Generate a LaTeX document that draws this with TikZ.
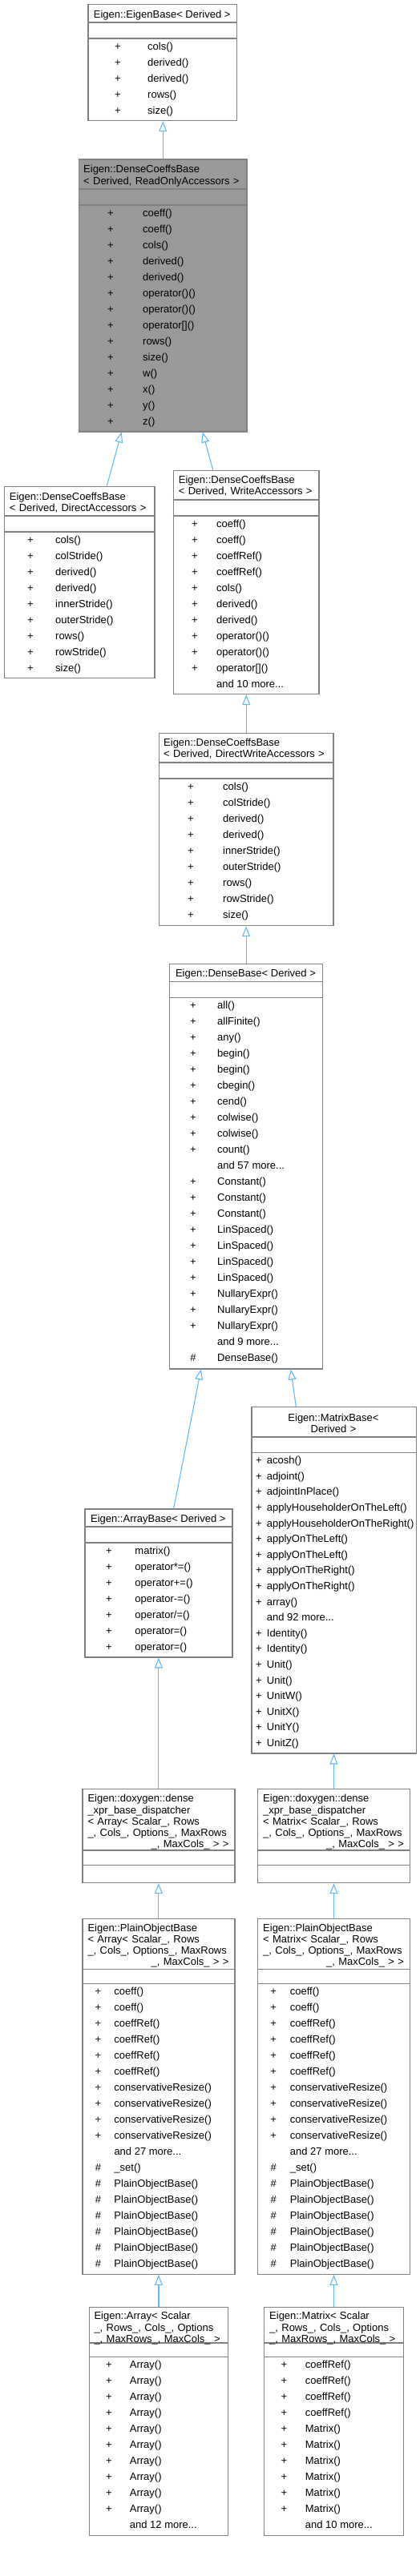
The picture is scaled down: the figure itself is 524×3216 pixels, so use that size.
\documentclass[tikz,border=0pt]{standalone}
\usepackage{fontspec}
\setmainfont{Liberation Sans}
\usepackage{array}
\usetikzlibrary{arrows.meta, positioning, calc}
\definecolor{EdgeBlue}{RGB}{99,184,255}
\definecolor{BoxGray}{RGB}{128,128,128}
\definecolor{HiGray}{RGB}{153,153,153}

% marker column + member name column
\newcommand{\memberlist}[2]{%
  \begin{tabular}{@{}>{\centering\arraybackslash}p{12pt}@{\hspace{#1}}l@{}}#2\end{tabular}}

\tikzset{
  classbox/.style={draw=BoxGray, line width=1.2pt, fill=white, anchor=north west, inner sep=0pt},
  sepline/.style={draw=BoxGray, line width=1.2pt},
  classtitle/.style={anchor=base west, inner sep=0pt, align=left, font=\fontsize{13}{14.3}\selectfont},
  members/.style={anchor=north west, inner sep=0pt, font=\fontsize{13}{20}\selectfont},
  inherit/.style={draw=EdgeBlue, line width=1.1pt, -{Triangle[open, length=13pt, width=10pt]}},
}

\begin{document}
\begin{tikzpicture}[x=1pt, y=-1pt]
    \useasboundingbox (0,0) rectangle (524,3216);

    % Eigen::EigenBase
    \node[classbox, minimum width=185.7pt, minimum height=145pt] (eigenbase) at (109.3,5) {};
    \draw[sepline] (109.3,28) -- (295,28) (109.3,48) -- (295,48);
    \node[classtitle, anchor=base] (eigenbase-t) at (202.2,22.5) {Eigen::EigenBase< Derived >};
    \node[members] (eigenbase-m) at (140.7,48.4) {\memberlist{31.3pt}{%
      + & cols()\\ + & derived()\\ + & derived()\\ + & rows()\\ + & size()}};

    % DenseCoeffsBase, read only (the class itself)
    \node[classbox, fill=HiGray, minimum width=209.3pt, minimum height=340pt] (dcbro) at (98,198.3) {};
    \draw[sepline] (98,236) -- (307.3,236) (98,256) -- (307.3,256);
    \node[classtitle, text width=197pt] (dcbro-t) at (104,215.7)
      {Eigen::DenseCoeffsBase\\< Derived, ReadOnlyAccessors >};
    \node[members] (dcbro-m) at (131.7,256.4) {\memberlist{34.3pt}{%
      + & coeff()\\ + & coeff()\\ + & cols()\\ + & derived()\\ + & derived()\\
      + & operator()()\\ + & operator()()\\ + & operator[]()\\ + & rows()\\
      + & size()\\ + & w()\\ + & x()\\ + & y()\\ + & z()}};

    % DenseCoeffsBase, direct accessors
    \node[classbox, minimum width=187.3pt, minimum height=239.3pt] (dcbd) at (5,606.7) {};
    \draw[sepline] (5,644) -- (192.3,644) (5,664) -- (192.3,664);
    \node[classtitle, text width=175pt] (dcbd-t) at (11.7,624)
      {Eigen::DenseCoeffsBase\\< Derived, DirectAccessors >};
    \node[members] (dcbd-m) at (31.7,664.4) {\memberlist{25.3pt}{%
      + & cols()\\ + & colStride()\\ + & derived()\\ + & derived()\\
      + & innerStride()\\ + & outerStride()\\ + & rows()\\ + & rowStride()\\ + & size()}};

    % DenseCoeffsBase, write accessors
    \node[classbox, minimum width=181.6pt, minimum height=279.3pt] (dcbw) at (215.7,586.7) {};
    \draw[sepline] (215.7,624) -- (397.3,624) (215.7,644) -- (397.3,644);
    \node[classtitle, text width=170pt] (dcbw-t) at (222.7,603.5)
      {Eigen::DenseCoeffsBase\\< Derived, WriteAccessors >};
    \node[members] (dcbw-m) at (236.7,644.4) {\memberlist{21.3pt}{%
      + & coeff()\\ + & coeff()\\ + & coeffRef()\\ + & coeffRef()\\ + & cols()\\
      + & derived()\\ + & derived()\\ + & operator()()\\ + & operator()()\\
      + & operator[]()\\ & and 10 more...}};

    % DenseCoeffsBase, direct write accessors
    \node[classbox, minimum width=217.3pt, minimum height=240pt] (dcbdw) at (198,915) {};
    \draw[sepline] (198,952) -- (415.3,952) (198,972) -- (415.3,972);
    \node[classtitle, text width=205pt] (dcbdw-t) at (204,931.5)
      {Eigen::DenseCoeffsBase\\< Derived, DirectWriteAccessors >};
    \node[members] (dcbdw-m) at (231.7,972.1) {\memberlist{34.3pt}{%
      + & cols()\\ + & colStride()\\ + & derived()\\ + & derived()\\
      + & innerStride()\\ + & outerStride()\\ + & rows()\\ + & rowStride()\\ + & size()}};

    % Eigen::DenseBase
    \node[classbox, minimum width=191pt, minimum height=505.6pt] (densebase) at (211,1202.7) {};
    \draw[sepline] (211,1225.3) -- (402,1225.3) (211,1245.3) -- (402,1245.3);
    \node[classtitle, anchor=base] (densebase-t) at (306.5,1219.5) {Eigen::DenseBase< Derived >};
    \node[members] (densebase-m) at (234.7,1245.4) {\memberlist{24.3pt}{%
      + & all()\\ + & allFinite()\\ + & any()\\ + & begin()\\ + & begin()\\
      + & cbegin()\\ + & cend()\\ + & colwise()\\ + & colwise()\\ + & count()\\
      & and 57 more...\\ + & Constant()\\ + & Constant()\\ + & Constant()\\
      + & LinSpaced()\\ + & LinSpaced()\\ + & LinSpaced()\\ + & LinSpaced()\\
      + & NullaryExpr()\\ + & NullaryExpr()\\ + & NullaryExpr()\\
      & and 9 more...\\ \# & DenseBase()}};

    % Eigen::ArrayBase
    \node[classbox, minimum width=184pt, minimum height=185pt] (arraybase) at (105.3,1883.3) {};
    \draw[sepline] (105.3,1906) -- (289.3,1906) (105.3,1926) -- (289.3,1926);
    \node[classtitle, anchor=base] (arraybase-t) at (197.3,1900.7) {Eigen::ArrayBase< Derived >};
    \node[members] (arraybase-m) at (129.7,1926.1) {\memberlist{26.6pt}{%
      + & matrix()\\ + & operator*=()\\ + & operator+=()\\ + & operator-=()\\
      + & {operator/=()}\\ + & operator=()\\ + & operator=()}};

    % Eigen::MatrixBase
    \node[classbox, minimum width=205.4pt, minimum height=432.6pt] (matrixbase) at (313.3,1755.7) {};
    \draw[sepline] (313.3,1794) -- (518.7,1794) (313.3,1813.3) -- (518.7,1813.3);
    \node[classtitle, anchor=base, align=center, text width=205pt] (matrixbase-t) at (416,1774.3)
      {Eigen::MatrixBase<\\Derived >};
    \node[members, font=\fontsize{13}{19.6}\selectfont] (matrixbase-m) at (316.7,1813.7) {\memberlist{4pt}{%
      + & acosh()\\ + & adjoint()\\ + & adjointInPlace()\\
      + & applyHouseholderOnTheLeft()\\ + & applyHouseholderOnTheRight()\\
      + & applyOnTheLeft()\\ + & applyOnTheLeft()\\ + & applyOnTheRight()\\
      + & applyOnTheRight()\\ + & array()\\ & and 92 more...\\
      + & Identity()\\ + & Identity()\\ + & Unit()\\ + & Unit()\\
      + & UnitW()\\ + & UnitX()\\ + & UnitY()\\ + & UnitZ()}};

    % dense_xpr_base_dispatcher for Array and for Matrix
    \node[classbox, minimum width=190pt, minimum height=117.3pt] (dispatcharray) at (102.3,2232.7) {};
    \draw[sepline] (102.3,2310) -- (292.3,2310) (102.3,2328.7) -- (292.3,2328.7);
    \node[classtitle, text width=176pt] (dispatcharray-t) at (109.3,2249.7)
      {Eigen::doxygen::dense\\\_xpr\_base\_dispatcher\\< Array< Scalar\_, Rows\\
       \_, Cols\_, Options\_, MaxRows\\\hspace*{\fill}\_, MaxCols\_ > >\hspace*{\fill}};

    \node[classbox, minimum width=189.7pt, minimum height=117.3pt] (dispatchmatrix) at (321,2232.7) {};
    \draw[sepline] (321,2310) -- (510.7,2310) (321,2328.7) -- (510.7,2328.7);
    \node[classtitle, text width=175.7pt] (dispatchmatrix-t) at (328,2249.7)
      {Eigen::doxygen::dense\\\_xpr\_base\_dispatcher\\< Matrix< Scalar\_, Rows\\
       \_, Cols\_, Options\_, MaxRows\\\hspace*{\fill}\_, MaxCols\_ > >\hspace*{\fill}};

    % PlainObjectBase for Array and for Matrix
    \node[classbox, minimum width=190pt, minimum height=444pt] (plainarray) at (102.3,2394.7) {};
    \draw[sepline] (102.3,2458.3) -- (292.3,2458.3) (102.3,2476.7) -- (292.3,2476.7);
    \node[classtitle, text width=176pt] (plainarray-t) at (109.3,2411)
      {Eigen::PlainObjectBase\\< Array< Scalar\_, Rows\\\_, Cols\_, Options\_, MaxRows\\
       \hspace*{\fill}\_, MaxCols\_ > >\hspace*{\fill}};
    \node[members] (plainarray-m) at (116.3,2476.4) {\memberlist{14pt}{%
      + & coeff()\\ + & coeff()\\ + & coeffRef()\\ + & coeffRef()\\ + & coeffRef()\\
      + & coeffRef()\\ + & conservativeResize()\\ + & conservativeResize()\\
      + & conservativeResize()\\ + & conservativeResize()\\ & and 27 more...\\
      \# & \_set()\\ \# & PlainObjectBase()\\ \# & PlainObjectBase()\\
      \# & PlainObjectBase()\\ \# & PlainObjectBase()\\ \# & PlainObjectBase()\\
      \# & PlainObjectBase()}};

    \node[classbox, minimum width=189.7pt, minimum height=444pt] (plainmatrix) at (321,2394.7) {};
    \draw[sepline] (321,2458.3) -- (510.7,2458.3) (321,2476.7) -- (510.7,2476.7);
    \node[classtitle, text width=175.7pt] (plainmatrix-t) at (328,2411)
      {Eigen::PlainObjectBase\\< Matrix< Scalar\_, Rows\\\_, Cols\_, Options\_, MaxRows\\
       \hspace*{\fill}\_, MaxCols\_ > >\hspace*{\fill}};
    \node[members] (plainmatrix-m) at (335,2476.4) {\memberlist{14.7pt}{%
      + & coeff()\\ + & coeff()\\ + & coeffRef()\\ + & coeffRef()\\ + & coeffRef()\\
      + & coeffRef()\\ + & conservativeResize()\\ + & conservativeResize()\\
      + & conservativeResize()\\ + & conservativeResize()\\ & and 27 more...\\
      \# & \_set()\\ \# & PlainObjectBase()\\ \# & PlainObjectBase()\\
      \# & PlainObjectBase()\\ \# & PlainObjectBase()\\ \# & PlainObjectBase()\\
      \# & PlainObjectBase()}};

    % Eigen::Array and Eigen::Matrix
    \node[classbox, minimum width=173.3pt, minimum height=284.7pt] (array) at (110.7,2880) {};
    \draw[sepline] (110.7,2925) -- (284,2925) (110.7,2942.7) -- (284,2942.7);
    \node[classtitle, text width=166pt] (array-t) at (117.3,2895.7)
      {Eigen::Array< Scalar\\\_, Rows\_, Cols\_, Options\\\_, MaxRows\_, MaxCols\_ >};
    \node[members] (array-m) at (129.7,2942.4) {\memberlist{20pt}{%
      + & Array()\\ + & Array()\\ + & Array()\\ + & Array()\\ + & Array()\\
      + & Array()\\ + & Array()\\ + & Array()\\ + & Array()\\ + & Array()\\
      & and 12 more...}};

    \node[classbox, minimum width=173.7pt, minimum height=284.7pt] (matrix) at (329,2880) {};
    \draw[sepline] (329,2925) -- (502.7,2925) (329,2942.7) -- (502.7,2942.7);
    \node[classtitle, text width=166pt] (matrix-t) at (336,2895.7)
      {Eigen::Matrix< Scalar\\\_, Rows\_, Cols\_, Options\\\_, MaxRows\_, MaxCols\_ >};
    \node[members] (matrix-m) at (348.3,2942.4) {\memberlist{20.4pt}{%
      + & coeffRef()\\ + & coeffRef()\\ + & coeffRef()\\ + & coeffRef()\\
      + & Matrix()\\ + & Matrix()\\ + & Matrix()\\ + & Matrix()\\ + & Matrix()\\
      + & Matrix()\\ & and 10 more...}};

    % inheritance arrows, child to parent
    \draw[inherit] (dcbro.north) -- (dcbro.north |- eigenbase.south);
    \draw[inherit] ([xshift=128.3pt]dcbd.north west) -- ([xshift=53.7pt]dcbro.south west);
    \draw[inherit] ([xshift=50pt]dcbw.north west) -- ([xshift=154.7pt]dcbro.south west);
    \draw[inherit] (dcbdw.north) -- (dcbdw.north |- dcbw.south);
    \draw[inherit] (densebase.north) -- (densebase.north |- dcbdw.south);
    \draw[inherit] ([xshift=111.4pt]arraybase.north west) -- ([xshift=39.7pt]densebase.south west);
    \draw[inherit] ([xshift=56pt]matrixbase.north west) -- ([xshift=151.7pt]densebase.south west);
    \draw[inherit] (dispatcharray.north) -- (dispatcharray.north |- arraybase.south);
    \draw[inherit] (dispatchmatrix.north) -- (dispatchmatrix.north |- matrixbase.south);
    \draw[inherit] (plainarray.north) -- (plainarray.north |- dispatcharray.south);
    \draw[inherit] (plainmatrix.north) -- (plainmatrix.north |- dispatchmatrix.south);
    \draw[inherit] (array.north) -- (array.north |- plainarray.south);
    \draw[inherit] (matrix.north) -- (matrix.north |- plainmatrix.south);
\end{tikzpicture}
\end{document}
